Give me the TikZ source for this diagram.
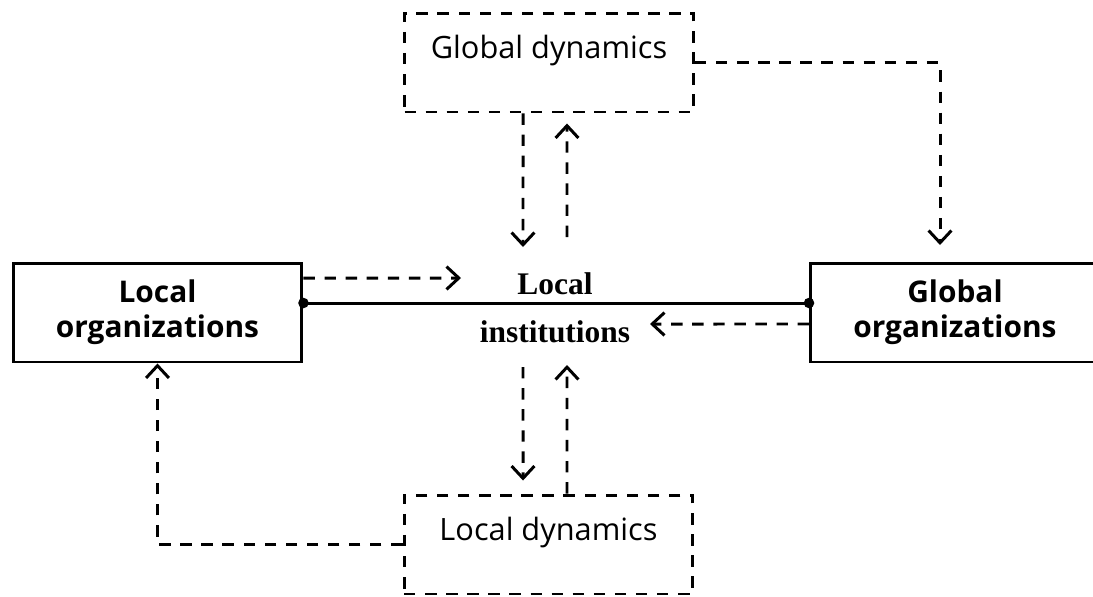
\documentclass[tikz,border=0pt]{standalone}
\usepackage{fontspec}
\setmainfont{Liberation Serif}
\setsansfont{Open Sans}
\usetikzlibrary{arrows.meta}

\begin{document}
\begin{tikzpicture}[%
        x = 0.02cm,
        y = -0.02cm,
        line width = 1.7pt,
        font = \sffamily\fontsize{17.5}{20}\selectfont,
        flow/.style = {
            dash pattern = on 6.5pt off 5.5pt,
            -{Straight Barb[length=7pt,width=13pt]}
        },
        orgbox/.style = {
            draw,
            align = center,
            font = \sffamily\bfseries\fontsize{17}{20}\selectfont
        },
        dynbox/.style = {
            draw,
            dash pattern = on 6.5pt off 5.5pt,
            text height = 0.9cm,
            text depth = 1.08cm
        }
    ]

        \useasboundingbox (0,0) rectangle (1093,596);
        \clip (0,0) rectangle (1093,596);

        % The four boxes.
        \begin{scope}[%
            every node/.style = {
                minimum width = 5.78cm,
                minimum height = 1.98cm,
                inner sep = 0pt
            }
        ]
            \node (lorg) at (157.5,312.5) [orgbox] {Local\\organizations};
            \node (gorg) at (955,312.5) [orgbox] {Global\\organizations};
            \node (gdyn) at (549,62.5) [dynbox] {Global dynamics};
            \node (ldyn) at (548.5,544.5) [dynbox] {Local dynamics};
        \end{scope}

        % The label in the middle.
        \node (linst) at (555,308) [align = center,
            font = \rmfamily\bfseries\fontsize{17.9}{27.3}\selectfont]
            {Local\\institutions};

        % Free ends of the dashed arrows.
        \coordinate (lotip) at (461,278);
        \coordinate (gotip) at (650,324);
        \coordinate (gdown) at (523,247);
        \coordinate (gtail) at (567,237);
        \coordinate (ltail) at (523,367);
        \coordinate (lup) at (567,365);
        \coordinate (gtip) at (940,245);

        % Solid line between the organizations.
        \draw ([yshift=0.19cm]lorg.east) coordinate (ldot)
            -- ([yshift=0.19cm]gorg.west) coordinate (gdot);
        \fill (ldot) circle [radius=3pt] (gdot) circle [radius=3pt];

        % Dashed arrows.
        \draw[flow] ([yshift=0.69cm]lorg.east) -- (lotip);
        \draw[flow] ([yshift=-0.23cm]gorg.west) -- (gotip);
        \draw[flow] ([xshift=-0.52cm]gdyn.south) -- (gdown);
        \draw[flow] (gtail) -- ([xshift=0.36cm,yshift=-0.2cm]gdyn.south);
        \draw[flow] (ltail) -- ([xshift=-0.51cm,yshift=0.26cm]ldyn.north);
        \draw[flow] ([xshift=0.37cm]ldyn.north) -- (lup);
        \draw[flow] (gdyn.east) -| (gtip);
        \draw[flow] (ldyn.west) -| (lorg.south);
    \end{tikzpicture}
\end{document}
